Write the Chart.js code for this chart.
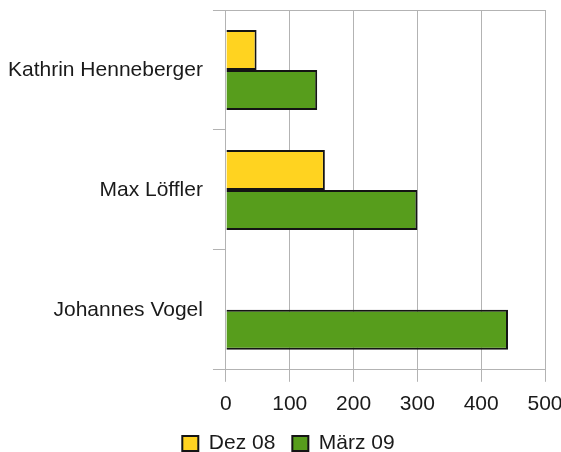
<!DOCTYPE html>
<html>
<head>
<meta charset="utf-8">
<script src="https://cdn.jsdelivr.net/npm/chart.js@4/dist/chart.umd.min.js"></script>
<style>
  html, body { margin: 0; padding: 0; background: #ffffff; }
  #wrap { width: 561px; height: 452px; }
</style>
</head>
<body>
<div id="wrap"><canvas id="chart" width="561" height="452"></canvas></div>
<script>
// Kandidaten und Stimmen je Zeitpunkt
const categories = ['Kathrin Henneberger', 'Max Löffler', 'Johannes Vogel'];
const seriesNames = ['Dez 08', 'März 09'];
const dez08 = [48, 155, null];
const maerz09 = [143, 300, 442];
const xTicks = [0, 100, 200, 300, 400, 500];

const GRID = '#b3b3b3';
const TEXT = '#1a1a1a';
const EDGE = '#141414';
const FONT = "'Liberation Sans', Arial, sans-serif";

// Legende etwas nach rechts unter den Plotbereich rücken
const legendShift = {
  id: 'legendShift',
  afterLayout(chart) {
    const lg = chart.legend;
    if (lg) { lg.left += 9; lg.right += 9; }
  }
};

new Chart(document.getElementById('chart'), {
  type: 'bar',
  plugins: [legendShift],
  data: {
    labels: categories,
    datasets: [
      {
        label: seriesNames[0],
        data: dez08,
        backgroundColor: '#ffd320',
        borderColor: EDGE,
        borderWidth: 2
      },
      {
        label: seriesNames[1],
        data: maerz09,
        backgroundColor: '#579d1c',
        borderColor: EDGE,
        borderWidth: 2
      }
    ]
  },
  options: {
    indexAxis: 'y',
    responsive: false,
    animation: false,
    devicePixelRatio: 1,
    layout: { padding: { left: -2, right: 0, top: 10, bottom: -12 } },
    datasets: {
      bar: { categoryPercentage: 0.667, barPercentage: 1.0 }
    },
    scales: {
      x: {
        min: xTicks[0],
        max: xTicks[xTicks.length - 1],
        afterBuildTicks: (scale) => { scale.ticks = xTicks.map(v => ({ value: v })); },
        afterFit: (scale) => { scale.paddingRight = 16; scale.height -= 11; },
        grid: {
          color: GRID,
          lineWidth: 1,
          tickLength: 12,
          tickColor: GRID
        },
        border: { color: GRID, width: 1 },
        ticks: {
          color: TEXT,
          padding: 10,
          font: { family: FONT, size: 21 }
        }
      },
      y: {
        afterFit: (scale) => { scale.paddingTop = 0; scale.paddingBottom = 0; },
        grid: {
          offset: true,
          color: (ctx) => (ctx.index === 0 || ctx.index === categories.length) ? GRID : 'rgba(0,0,0,0)',
          tickColor: GRID,
          tickLength: 13,
          lineWidth: 1
        },
        border: { color: GRID, width: 1 },
        ticks: {
          color: TEXT,
          padding: 10,
          font: { family: FONT, size: 21 }
        }
      }
    },
    plugins: {
      legend: {
        position: 'bottom',
        labels: {
          color: TEXT,
          boxWidth: 16,
          boxHeight: 15,
          padding: 17,
          font: { family: FONT, size: 21 },
          generateLabels: (chart) => chart.data.datasets.map((ds, i) => ({
            text: ds.label,
            fillStyle: ds.backgroundColor,
            strokeStyle: EDGE,
            lineWidth: 2,
            fontColor: TEXT,
            datasetIndex: i,
            hidden: false
          }))
        }
      },
      tooltip: { enabled: false }
    }
  }
});
</script>
</body>
</html>
